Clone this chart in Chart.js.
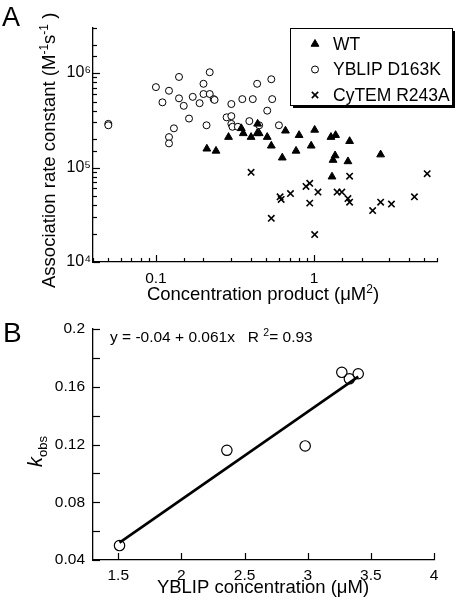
<!DOCTYPE html>
<html>
<head>
<meta charset="utf-8">
<script src="https://cdn.jsdelivr.net/npm/chart.js@4.4.0/dist/chart.umd.min.js"></script>
<style>
  html, body { margin: 0; padding: 0; background: #fff; }
  canvas { display: block; }
</style>
</head>
<body>
<canvas id="chartA" width="460" height="305"></canvas>
<canvas id="chartB" width="460" height="303"></canvas>
<script>
const FONT = "'Liberation Sans', Arial, Helvetica, sans-serif";
Chart.defaults.font.family = FONT;
Chart.defaults.color = '#000';
Chart.defaults.animation = false;

// ---- panel A data ----
const SERIES_A = ['WT', 'YBLIP D163K', 'CyTEM R243A'];
const WT_X = [0.21, 0.24, 0.288, 0.347, 0.357, 0.40, 0.44, 0.437, 0.45, 0.506, 0.537, 0.63, 0.66,
              0.77, 0.805, 0.96, 1.01, 1.28, 1.37, 1.30, 1.32, 1.36, 1.64, 1.68, 2.64];
const WT_Y = [1.58e5, 1.5e5, 2.1e5, 2.6e5, 2.3e5, 2.1e5, 2.9e5, 2.3e5, 2.3e5, 2.1e5, 1.7e5, 1.27e5, 2.45e5,
              1.5e5, 2.2e5, 1.7e5, 2.5e5, 2.1e5, 2.2e5, 8.0e4, 1.2e5, 1.34e5, 1.16e5, 1.9e5, 1.37e5];
const YB_X = [0.05, 0.05, 0.10, 0.11, 0.121, 0.14, 0.14, 0.15, 0.162, 0.171, 0.189, 0.20, 0.20,
              0.209, 0.219, 0.219, 0.232, 0.235, 0.121, 0.121, 0.13, 0.28, 0.30, 0.30, 0.30, 0.305,
              0.33, 0.352, 0.39, 0.41, 0.437, 0.45, 0.506, 0.537, 0.544, 0.60];
const YB_Y = [2.9e5, 2.8e5, 7.1e5, 4.9e5, 6.5e5, 9.1e5, 5.4e5, 4.5e5, 3.3e5, 5.6e5, 4.8e5, 7.7e5, 6.0e5,
              2.8e5, 1.02e6, 6.0e5, 5.3e5, 5.2e5, 2.1e5, 1.8e5, 2.6e5, 3.4e5, 4.7e5, 3.5e5, 2.9e5, 2.7e5,
              2.7e5, 5.3e5, 3.1e5, 5.3e5, 7.7e5, 2.8e5, 4.0e5, 8.6e5, 5.3e5, 2.8e5];
const CY_X = [0.40, 0.537, 0.61, 0.62, 0.71, 0.89, 0.94, 0.94, 1.01, 1.06, 1.40, 1.50, 1.64, 1.68,
              1.68, 2.35, 2.64, 3.09, 4.32, 5.2];
const CY_Y = [8.9e4, 2.9e4, 4.9e4, 4.6e4, 5.3e4, 6.3e4, 6.8e4, 4.2e4, 1.95e4, 5.5e4, 5.5e4, 5.5e4, 4.7e4, 4.3e4,
              8.1e4, 3.5e4, 4.3e4, 4.1e4, 4.9e4, 8.6e4];
const XA_TICK_VALUES = [0.1, 1];
const XA_TICK_LABELS = ['0.1', '1'];
const YA_TICK_VALUES = [1e4, 1e5, 1e6];
const YA_TICK_LABELS = ['10\u2074', '10\u2075', '10\u2076'];

// ---- panel B data ----
const CONC_B = [1.51, 2.36, 2.98, 3.27, 3.33, 3.40];
const KOBS_B = [0.050, 0.116, 0.119, 0.170, 0.1655, 0.169];
const FIT_X = [1.51, 3.40];
const FIT_Y = [0.052, 0.167];
const XB_TICKS = [1.5, 2, 2.5, 3, 3.5, 4];
const YB_TICK_LABELS = ['0.04', '0.08', '0.12', '0.16', '0.2'];

function pts(xs, ys) { return xs.map((x, i) => ({ x: x, y: ys[i] })); }
function pick(values, labels) {
  return v => {
    const i = values.findIndex(t => Math.abs(t - v) <= t * 1e-6);
    return i < 0 ? '' : labels[i];
  };
}
function isDecade(v) { const l = Math.log10(v); return Math.abs(l - Math.round(l)) < 1e-6; }

// inward tick marks, positions come from the scales
function drawInnerTicks(chart, len) {
  const ctx = chart.ctx, sx = chart.scales.x, sy = chart.scales.y;
  const area = chart.chartArea;
  ctx.save();
  ctx.setLineDash([]);
  ctx.strokeStyle = '#000';
  ctx.lineWidth = 1.2;
  sx.ticks.forEach(t => {
    const p = Math.round(sx.getPixelForValue(t.value)) + 0.5;
    ctx.beginPath();
    ctx.moveTo(p, area.bottom);
    ctx.lineTo(p, area.bottom - len(t.value));
    ctx.stroke();
  });
  sy.ticks.forEach(t => {
    const p = Math.round(sy.getPixelForValue(t.value)) + 0.5;
    ctx.beginPath();
    ctx.moveTo(area.left, p);
    ctx.lineTo(area.left + len(t.value), p);
    ctx.stroke();
  });
  ctx.restore();
}

// text runs with super/subscripts; rotated = reads bottom to top
function runs(ctx, parts, x, y, opts) {
  opts = opts || {};
  ctx.save();
  ctx.fillStyle = '#000';
  ctx.textBaseline = 'alphabetic';
  ctx.textAlign = 'left';
  let w = 0;
  parts.forEach(p => { ctx.font = p[1]; w += ctx.measureText(p[0]).width; });
  ctx.translate(x, y);
  if (opts.rotate) ctx.rotate(-Math.PI / 2);
  let cx = opts.center ? -w / 2 : 0;
  parts.forEach(p => {
    ctx.font = p[1];
    ctx.fillText(p[0], cx, p[2] || 0);
    cx += ctx.measureText(p[0]).width;
  });
  ctx.restore();
}

const big = `18.5px ${FONT}`;
const sup = `12px ${FONT}`;

const decorA = {
  id: 'decorA',
  afterDraw(chart) {
    const ctx = chart.ctx;
    drawInnerTicks(chart, v => isDecade(v) ? 7 : 4);

    // legend box with drop shadow
    ctx.save();
    ctx.fillStyle = '#000';
    ctx.fillRect(293, 31, 162, 77);
    ctx.fillStyle = '#fff';
    ctx.fillRect(290, 28, 162, 77);
    ctx.strokeStyle = '#000';
    ctx.lineWidth = 1;
    ctx.strokeRect(290.5, 28.5, 162, 77);
    chart.data.datasets.forEach((ds, i) => {
      const y = 44 + i * 25.5;
      ctx.fillStyle = ds.backgroundColor;
      ctx.strokeStyle = ds.borderColor;
      ctx.lineWidth = ds.borderWidth;
      Chart.helpers.drawPoint(ctx, { pointStyle: ds.pointStyle, radius: ds.pointRadius, borderWidth: ds.borderWidth, rotation: 0 }, 315, y);
      ctx.fillStyle = '#000';
      ctx.font = `17.5px ${FONT}`;
      ctx.textBaseline = 'middle';
      ctx.textAlign = 'left';
      ctx.fillText(ds.label, 333, y + 1);
    });
    ctx.restore();

    runs(ctx, [['A', `27px ${FONT}`]], 2, 26);
    runs(ctx, [['Association rate constant (M', big], ['-1', sup, -7], ['s', big], ['-1', sup, -7], [' )', big]],
      55, 288, { rotate: true });
    runs(ctx, [['Concentration product (\u03bcM', big], ['2', sup, -7], [')', big]], 263, 300, { center: true });
  }
};

new Chart(document.getElementById('chartA'), {
  type: 'scatter',
  data: {
    datasets: [
      { label: SERIES_A[0], data: pts(WT_X, WT_Y), pointStyle: 'triangle', pointRadius: 4.5,
        backgroundColor: '#000', borderColor: '#000', borderWidth: 1 },
      { label: SERIES_A[1], data: pts(YB_X, YB_Y), pointStyle: 'circle', pointRadius: 3.5,
        backgroundColor: '#fff', borderColor: '#000', borderWidth: 1 },
      { label: SERIES_A[2], data: pts(CY_X, CY_Y), pointStyle: 'crossRot', pointRadius: 4.5,
        backgroundColor: '#000', borderColor: '#000', borderWidth: 1.6 }
    ]
  },
  options: {
    responsive: false,
    layout: { padding: { left: 0, top: 28, right: 23, bottom: 0 } },
    plugins: { legend: { display: false }, tooltip: { enabled: false } },
    scales: {
      x: {
        type: 'logarithmic', min: 0.04, max: 6,
        grid: { display: false, drawTicks: false },
        border: { display: true, color: '#000', width: 1.3 },
        ticks: { autoSkip: false, maxRotation: 0, padding: 7, font: { size: 15.5 }, callback: pick(XA_TICK_VALUES, XA_TICK_LABELS) },
        afterFit(s) { s.height = 43; }
      },
      y: {
        type: 'logarithmic', min: 1e4, max: 3e6,
        grid: { display: false, drawTicks: false },
        border: { display: true, color: '#000', width: 1.3 },
        ticks: { autoSkip: false, padding: 2, font: { size: 16 }, callback: pick(YA_TICK_VALUES, YA_TICK_LABELS) },
        afterFit(s) { s.width = 93; }
      }
    }
  },
  plugins: [decorA]
});

const decorB = {
  id: 'decorB',
  afterDraw(chart) {
    const ctx = chart.ctx;
    drawInnerTicks(chart, () => 7);
    runs(ctx, [['B', `28px ${FONT}`]], 3, 37);
    runs(ctx, [['y = -0.04 + 0.061x   R ', `15.5px ${FONT}`], ['2', `10.5px ${FONT}`, -6], ['= 0.93', `15.5px ${FONT}`]], 110, 37);
    runs(ctx, [['k', `italic 20px ${FONT}`], ['obs', `13px ${FONT}`, 5]], 42, 162, { rotate: true });
    runs(ctx, [['YBLIP concentration (\u03bcM)', big]], 263, 288, { center: true });
  }
};

new Chart(document.getElementById('chartB'), {
  type: 'scatter',
  data: {
    datasets: [
      { label: 'kobs', data: pts(CONC_B, KOBS_B), pointStyle: 'circle', pointRadius: 5.2,
        backgroundColor: 'rgba(0,0,0,0)', borderColor: '#000', borderWidth: 1.2 },
      { label: 'fit', data: pts(FIT_X, FIT_Y), showLine: true, pointRadius: 0,
        borderColor: '#000', borderWidth: 2.6 }
    ]
  },
  options: {
    responsive: false,
    layout: { padding: { left: 0, top: 24, right: 26, bottom: 0 } },
    plugins: { legend: { display: false }, tooltip: { enabled: false } },
    scales: {
      x: {
        type: 'linear', min: 1.3, max: 4,
        afterBuildTicks(s) { s.ticks = XB_TICKS.map(v => ({ value: v })); },
        grid: { display: false, drawTicks: false },
        border: { display: true, color: '#000', width: 1.3 },
        ticks: { autoSkip: false, maxRotation: 0, padding: 6, font: { size: 15.5 }, callback: v => String(v) },
        afterFit(s) { s.height = 48; }
      },
      y: {
        type: 'linear', min: 0.04, max: 0.2,
        grid: { display: false, drawTicks: false },
        border: { display: true, color: '#000', width: 1.3 },
        ticks: {
          stepSize: 0.02, autoSkip: false, padding: 8, font: { size: 15.5 },
          callback: v => { const s = String(+v.toFixed(2)); return YB_TICK_LABELS.includes(s) ? s : ''; }
        },
        afterFit(s) { s.width = 93; }
      }
    }
  },
  plugins: [decorB]
});
</script>
</body>
</html>
